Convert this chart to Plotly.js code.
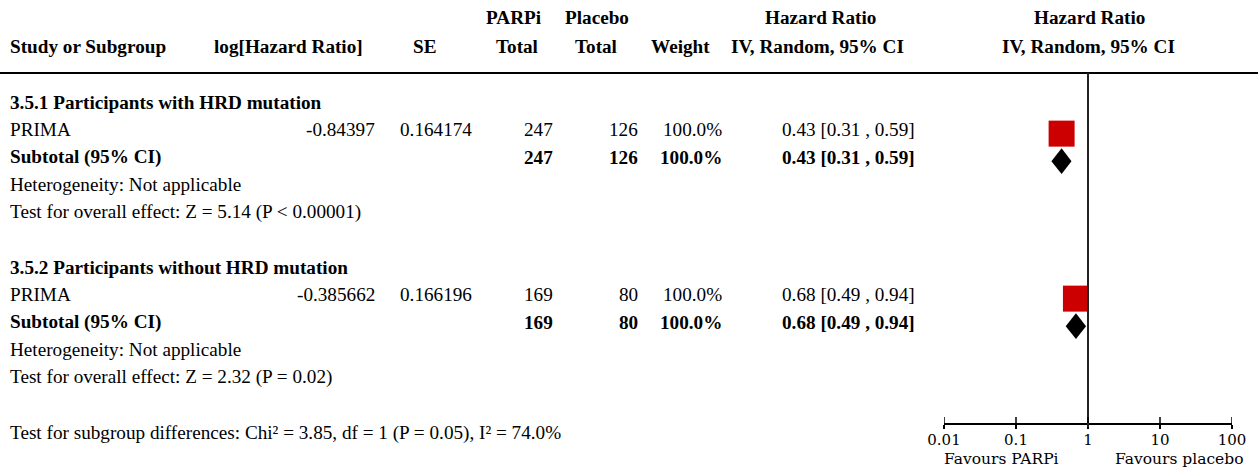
<!DOCTYPE html>
<html>
<head>
<meta charset="utf-8">
<script src="https://cdn.plot.ly/plotly-3.0.1.min.js"></script>
<style>
  html, body { margin: 0; padding: 0; background: #fff; }
  #chart { width: 1258px; height: 472px; }
</style>
</head>
<body>
<div id="chart"></div>
<script>
// Forest plot: PARPi vs placebo, hazard ratios by HRD mutation subgroup
const subgroupNames = ['3.5.1 Participants with HRD mutation', '3.5.2 Participants without HRD mutation'];
const studyNames = ['PRIMA', 'PRIMA'];
const logHR = ['-0.84397', '-0.385662'];
const seVals = ['0.164174', '0.166196'];
const parpiTotal = [247, 169];
const placeboTotal = [126, 80];
const weights = ['100.0%', '100.0%'];
const hr = [0.43, 0.68];
const ciLow = [0.31, 0.49];
const ciHigh = [0.59, 0.94];
const subtotalHR = [0.43, 0.68];
const subtotalLow = [0.31, 0.49];
const subtotalHigh = [0.59, 0.94];
const heterogeneity = ['Heterogeneity: Not applicable', 'Heterogeneity: Not applicable'];
const overallEffect = ['Test for overall effect: Z = 5.14 (P < 0.00001)', 'Test for overall effect: Z = 2.32 (P = 0.02)'];
const subgroupTest = 'Test for subgroup differences: Chi\u00b2 = 3.85, df = 1 (P = 0.05), I\u00b2 = 74.0%';
const tickVals = [0.01, 0.1, 1, 10, 100];
const tickText = ['0.01', '0.1', '1', '10', '100'];
const favourLabels = ['Favours PARPi', 'Favours placebo'];

// Layout geometry (pixels)
const W = 1258, H = 472;
const ROW0 = 102, ROWH = 27.5;             // first table row and row pitch
const pxToRow = p => (p - ROW0) / ROWH;
const px = x => x / W;                     // horizontal pixel -> paper fraction
const py = y => 1 - y / H;                 // vertical pixel -> paper fraction
const AXIS_Y = 423, HEAD_LINE_Y = 73;
const MARK_OFF = 0.15;                     // markers sit slightly below the text line
const PAD = 2;                             // annotation box padding

const TXT = { family: 'Liberation Serif', size: 19.2, color: '#000' };
const fmtCI = (m, l, h) => m.toFixed(2) + ' [' + l.toFixed(2) + ' , ' + h.toFixed(2) + ']';

const ann = [];
function txt(text, xPix, row, anchor, extra) {
  const shift = anchor === 'left' ? -PAD : anchor === 'right' ? PAD : 0;
  ann.push(Object.assign({
    text: text, xref: 'paper', yref: 'y', x: px(xPix + shift), y: row,
    xanchor: anchor, yanchor: 'middle', showarrow: false, font: TXT
  }, extra || {}));
}

// Column headers
const h1 = pxToRow(17), h2 = pxToRow(46);
txt('<b>Study or Subgroup</b>', 10, h2, 'left');
txt('<b>log[Hazard Ratio]</b>', 288, h2, 'center');
txt('<b>SE</b>', 424, h2, 'center');
txt('<b>PARPi</b>', 514, h1, 'center');
txt('<b>Total</b>', 517, h2, 'center');
txt('<b>Placebo</b>', 597, h1, 'center');
txt('<b>Total</b>', 596, h2, 'center');
txt('<b>Weight</b>', 680, h2, 'center');
txt('<b>Hazard Ratio</b>', 820, h1, 'center');
txt('<b>IV, Random, 95% CI</b>', 817, h2, 'center');
txt('<b>Hazard Ratio</b>', 1089, h1, 'center');
txt('<b>IV, Random, 95% CI</b>', 1088, h2, 'center');

// Subgroup blocks
const blockStart = [0, 6];
const traces = [];
subgroupNames.forEach((name, i) => {
  const r = blockStart[i];
  txt('<b>' + name + '</b>', 10, r, 'left');
  txt(studyNames[i], 10, r + 1, 'left');
  txt(logHR[i], 375, r + 1, 'right');
  txt(seVals[i], 472, r + 1, 'right');
  txt(String(parpiTotal[i]), 553, r + 1, 'right');
  txt(String(placeboTotal[i]), 638, r + 1, 'right');
  txt(weights[i], 722, r + 1, 'right');
  txt(fmtCI(hr[i], ciLow[i], ciHigh[i]), 915, r + 1, 'right');
  txt('<b>Subtotal (95% CI)</b>', 10, r + 2, 'left');
  txt('<b>' + parpiTotal[i] + '</b>', 553, r + 2, 'right');
  txt('<b>' + placeboTotal[i] + '</b>', 638, r + 2, 'right');
  txt('<b>' + weights[i] + '</b>', 722, r + 2, 'right');
  txt('<b>' + fmtCI(subtotalHR[i], subtotalLow[i], subtotalHigh[i]) + '</b>', 915, r + 2, 'right');
  txt(heterogeneity[i], 10, r + 3, 'left');
  txt(overallEffect[i], 10, r + 4, 'left');

  // pooled diamond spanning the subtotal CI
  const dr = r + 2 + MARK_OFF, dh = 0.47;
  traces.push({
    type: 'scatter', mode: 'lines', fill: 'toself', fillcolor: '#000',
    line: { width: 0, color: '#000' }, hoverinfo: 'skip',
    x: [subtotalLow[i], subtotalHR[i], subtotalHigh[i], subtotalHR[i], subtotalLow[i]],
    y: [dr, dr - dh, dr, dr + dh, dr]
  });
});

// Study point estimates (weighted squares)
traces.push({
  type: 'scatter', mode: 'markers', hoverinfo: 'skip',
  x: hr, y: blockStart.map(r => r + 1 + MARK_OFF),
  marker: { symbol: 'square', size: 26, color: '#cc0000', line: { width: 0 } }
});

txt(subgroupTest, 10, 12.04, 'left');

// Favours labels under the axis
const favFont = { family: 'DejaVu Serif', size: 15.5, color: '#000' };
ann.push({ text: favourLabels[0], xref: 'paper', yref: 'paper', x: px(1001), y: py(459),
  xanchor: 'center', yanchor: 'middle', showarrow: false, font: favFont });
ann.push({ text: favourLabels[1], xref: 'paper', yref: 'paper', x: px(1179), y: py(459),
  xanchor: 'center', yanchor: 'middle', showarrow: false, font: favFont });

// Shapes: header rule, line of no effect, upward tick marks
const shapes = [
  { type: 'line', xref: 'paper', yref: 'paper', x0: 0, x1: 1, y0: py(HEAD_LINE_Y), y1: py(HEAD_LINE_Y),
    line: { color: '#000', width: 2 } },
  { type: 'line', xref: 'x', yref: 'paper', x0: 1, x1: 1, y0: py(AXIS_Y + 4), y1: py(HEAD_LINE_Y),
    line: { color: '#222', width: 2 } }
];
tickVals.forEach(v => shapes.push({
  type: 'line', xref: 'x', yref: 'paper', x0: v, x1: v, y0: py(AXIS_Y), y1: py(AXIS_Y - 6),
  line: { color: '#000', width: 1.5 }
}));

const layout = {
  width: W, height: H,
  margin: { l: 0, r: 0, t: 0, b: 0, pad: 0 },
  paper_bgcolor: '#fff', plot_bgcolor: 'rgba(0,0,0,0)',
  showlegend: false,
  xaxis: {
    type: 'log', range: [-2, 2], domain: [px(944), px(1232)],
    anchor: 'free', position: py(AXIS_Y),
    showline: true, linecolor: '#000', linewidth: 1.5,
    ticks: 'outside', ticklen: 4, tickwidth: 1.5, tickcolor: '#000',
    ticklabelstandoff: -2,
    tickmode: 'array', tickvals: tickVals, ticktext: tickText,
    tickfont: { family: 'DejaVu Serif', size: 15, color: '#000' },
    showgrid: false, zeroline: false, fixedrange: true
  },
  yaxis: {
    range: [pxToRow(H), pxToRow(0)], domain: [0, 1], visible: false,
    showgrid: false, zeroline: false, fixedrange: true
  },
  annotations: ann,
  shapes: shapes
};

Plotly.newPlot('chart', traces, layout, { staticPlot: true, displayModeBar: false });
</script>
</body>
</html>
